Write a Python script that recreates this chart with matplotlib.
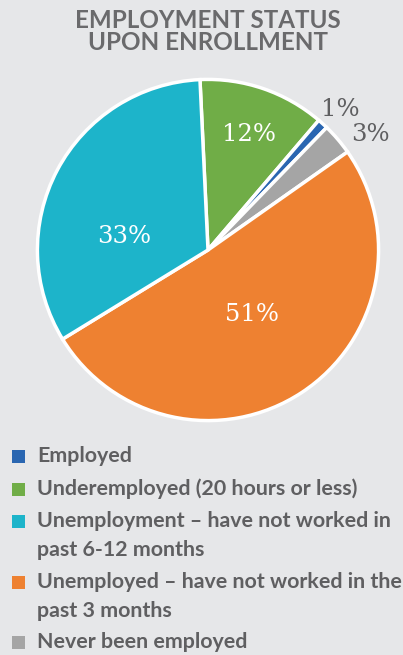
import numpy as np
import matplotlib
matplotlib.use("Agg")
import matplotlib.pyplot as plt
from matplotlib.patches import Rectangle

# Data
pie_labels = ["Underemployed (20 hours or less)", "Employed", "Never been employed",
              "Unemployed – have not worked in the\npast 3 months",
              "Unemployment – have not worked in\npast 6-12 months"]
pie_values = [12, 1, 3, 51, 33]
pie_colors = ["#70ad47", "#2a66b1", "#a5a5a5", "#ee8131", "#1db4ca"]

legend_labels = ["Employed", "Underemployed (20 hours or less)",
                 "Unemployment – have not worked in\npast 6-12 months",
                 "Unemployed – have not worked in the\npast 3 months",
                 "Never been employed"]
legend_colors = ["#2a66b1", "#70ad47", "#1db4ca", "#ee8131", "#a5a5a5"]

title_lines = ["EMPLOYMENT STATUS", "UPON ENROLLMENT"]

BG = "#e6e7e9"
TXT = "#5f5f61"

W, H = 403, 655
fig = plt.figure(figsize=(W / 100, H / 100), dpi=100, facecolor=BG)

cx, cy, r = 208, 250, 174
ax = fig.add_axes([(cx - r) / W, (H - cy - r) / H, 2 * r / W, 2 * r / H])
ax.set_facecolor(BG)
wedges, _ = ax.pie(pie_values, colors=pie_colors, startangle=92.7, counterclock=False,
                   radius=1.0, wedgeprops=dict(edgecolor="white", linewidth=2.5))
ax.set_xlim(-1.02, 1.02)
ax.set_ylim(-1.02, 1.02)
ax.axis("off")

# percentage labels
lab_r = [0.72, 1.13, 1.17, 0.46, 0.50]
lab_off = [-0.7, -1.0, -5.0, 1.0, 19.0]
lab_col = ["white", TXT, TXT, "white", "white"]
for w, v, rr, off, c in zip(wedges, pie_values, lab_r, lab_off, lab_col):
    th = np.deg2rad((w.theta1 + w.theta2) / 2 + off)
    ax.text(rr * np.cos(th), rr * np.sin(th), f"{v}%", ha="center", va="center",
            color=c, fontsize=17.5, family="DejaVu Serif")

# title
for i, line in enumerate(title_lines):
    fig.text(208 / W, 1 - (20 + 23 * i) / H, line, ha="center", va="center",
             fontsize=17.4, fontweight="bold", family="Lato", color="#6a6a6c")

# legend
ys = [456, 489, 521, 582, 642]
for lab, col, y in zip(legend_labels, legend_colors, ys):
    fig.patches.append(Rectangle((12 / W, 1 - (y + 6.5) / H), 13 / W, 13 / H,
                                 transform=fig.transFigure, facecolor=col, edgecolor="none"))
    for j, line in enumerate(lab.split("\n")):
        fig.text(37 / W, 1 - (y + 29 * j) / H, line, ha="left", va="center",
                 fontsize=15.4, fontweight="bold", family="Lato", color=TXT)

fig.savefig("out.png", dpi=100, facecolor=BG)
